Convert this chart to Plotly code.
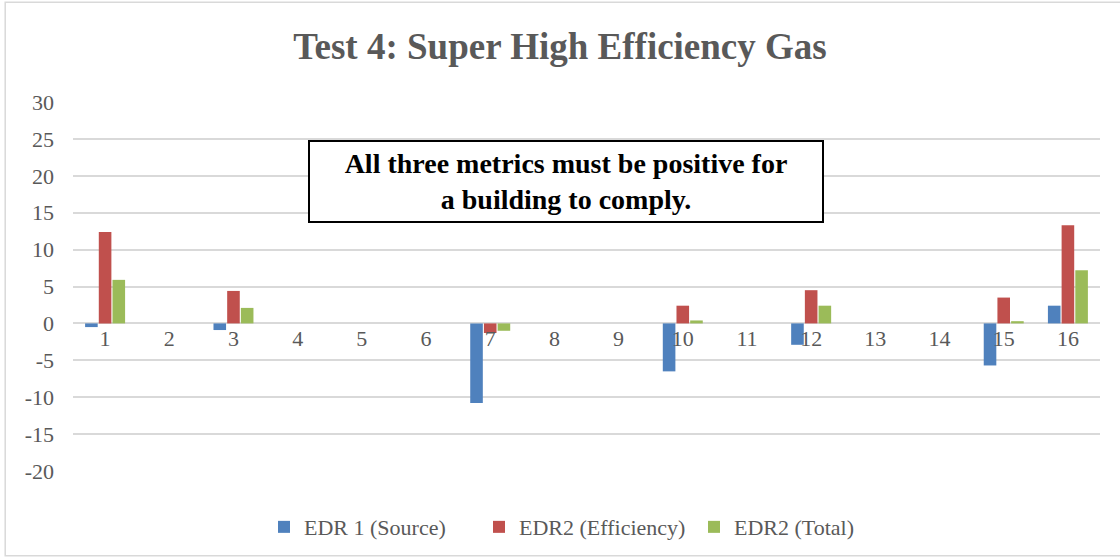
import plotly.graph_objects as go

# Building numbers
buildings = [str(i) for i in range(1, 17)]

# Values (0 = no bar)
edr1_source = [-0.5, 0, -0.9, 0, 0, 0, -10.8, 0, 0, -6.5, 0, -2.9, 0, 0, -5.7, 2.4]
edr2_efficiency = [12.4, 0, 4.4, 0, 0, 0, -1.3, 0, 0, 2.4, 0, 4.5, 0, 0, 3.5, 13.3]
edr2_total = [5.9, 0, 2.1, 0, 0, 0, -1.0, 0, 0, 0.4, 0, 2.4, 0, 0, 0.3, 7.2]

# y axis ticks (plain hyphen minus, as in the original)
y_ticks = [-20, -15, -10, -5, 0, 5, 10, 15, 20, 25, 30]
y_tick_labels = ["-20", "-15", "-10", "-5", "0", "5", "10", "15", "20", "25", "30"]

series = [
    ("EDR 1 (Source)", edr1_source, "#4f81bd"),
    ("EDR2 (Efficiency)", edr2_efficiency, "#c0504d"),
    ("EDR2 (Total)", edr2_total, "#9bbb59"),
]

FONT = "Liberation Serif"
GREY = "#595959"

fig = go.Figure()
for name, vals, color in series:
    fig.add_trace(go.Bar(
        x=buildings,
        y=vals,
        name=name,
        marker=dict(color=color, line=dict(width=0)),
    ))

fig.update_layout(
    width=1120,
    height=560,
    barmode="group",
    bargap=0.36,
    bargroupgap=0.08,
    plot_bgcolor="white",
    paper_bgcolor="white",
    margin=dict(l=73, r=20, t=102, b=83),
    font=dict(family=FONT, color=GREY, size=22),
    title=dict(
        text="<b>Test 4: Super High Efficiency Gas</b>",
        x=0.5, xanchor="center", y=0.917, yanchor="middle",
        font=dict(family=FONT, size=37, color=GREY),
    ),
    legend=dict(
        orientation="h",
        x=0.5, xanchor="center",
        y=-0.095, yanchor="top",
        font=dict(family=FONT, size=22, color=GREY),
        itemwidth=30,
        entrywidth=170,
        entrywidthmode="pixels",
        traceorder="normal",
    ),
    yaxis=dict(
        range=[-20, 30],
        tickvals=y_ticks,
        ticktext=y_tick_labels,
        showgrid=True,
        gridcolor="#d9d9d9",
        gridwidth=1.5,
        zeroline=True,
        zerolinecolor="#d9d9d9",
        zerolinewidth=1.5,
        tickfont=dict(family=FONT, size=22, color=GREY),
        ticklabelstandoff=18,
    ),
    xaxis=dict(
        anchor="free",
        position=20 / 50,
        showline=False,
        showgrid=False,
        ticks="",
        tickfont=dict(family=FONT, size=22, color=GREY),
        ticklabelstandoff=0,
    ),
    shapes=[
        dict(type="rect", xref="paper", yref="paper",
             x0=-0.066, x1=1.05, y0=-0.23, y1=1.27,
             line=dict(color="#d9d9d9", width=1.5), layer="below"),
    ],
    annotations=[
        dict(
            text="<b>All three metrics must be positive for<br>a building to comply.</b>",
            xref="paper", yref="paper",
            x=0.48, y=0.784, xanchor="center", yanchor="middle",
            showarrow=False,
            align="center",
            font=dict(family=FONT, size=28, color="black"),
            bgcolor="white",
            bordercolor="black",
            borderwidth=2,
            borderpad=6,
            width=500,
        )
    ],
)

fig.write_html(
    "out.html",
    config={"displayModeBar": False},
    post_script="document.body.style.margin='0';",
)
